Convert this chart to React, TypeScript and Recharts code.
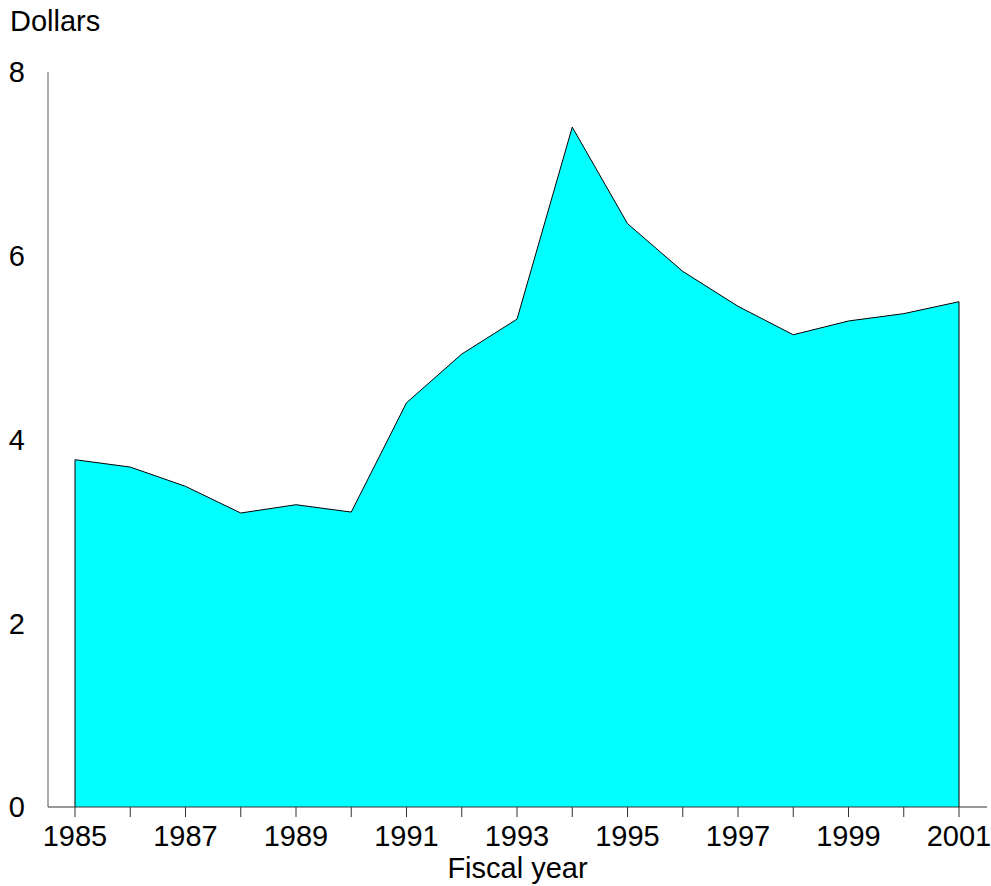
import { AreaChart, Area, XAxis, YAxis, ReferenceLine } from 'recharts';

const years = [1985, 1986, 1987, 1988, 1989, 1990, 1991, 1992, 1993, 1994, 1995, 1996, 1997, 1998, 1999, 2000, 2001];
const dollars = [3.78, 3.7, 3.49, 3.2, 3.29, 3.21, 4.4, 4.93, 5.31, 7.4, 6.35, 5.83, 5.45, 5.14, 5.29, 5.37, 5.5];
const yTicks = [0, 2, 4, 6, 8];

const data = years.map((year, i) => ({ year, value: dollars[i] }));

const FONT = '"Liberation Sans", Arial, sans-serif';
const FS = 29;

const App = () => {
  const first = data[0];
  const last = data[data.length - 1];

  return (
    <div style={{ position: 'absolute', left: 0, top: 0, width: 991, height: 886, fontFamily: FONT }}>
      <div style={{ position: 'absolute', left: 10, top: 5, fontSize: FS, color: '#000' }}>Dollars</div>
      <AreaChart width={991} height={886} data={data} margin={{ top: 72, right: 4, bottom: 0, left: 0 }}>
        <XAxis
          dataKey="year"
          type="number"
          domain={[1985, 2001]}
          ticks={years}
          interval={0}
          padding={{ left: 27, right: 28 }}
          tickFormatter={(v: number) => (v % 2 === 1 ? String(v) : '')}
          tickSize={10}
          tickMargin={8}
          height={79}
          stroke="#333"
          tick={{ fill: '#000', fontSize: FS, fontFamily: FONT }}
          label={{ value: 'Fiscal year', position: 'insideBottom', offset: 8, fill: '#000', fontSize: FS, fontFamily: FONT }}
        />
        <YAxis
          domain={[0, 8]}
          ticks={yTicks}
          width={48}
          tickLine={false}
          tickSize={0}
          tickMargin={23}
          stroke="#555"
          tick={{ fill: '#000', fontSize: FS, fontFamily: FONT }}
        />
        <Area
          type="linear"
          dataKey="value"
          fill="#00ffff"
          fillOpacity={1}
          stroke="#000"
          strokeWidth={1}
          isAnimationActive={false}
        />
        <ReferenceLine segment={[{ x: first.year, y: 0 }, { x: first.year, y: first.value }]} stroke="#000" strokeWidth={1} />
        <ReferenceLine segment={[{ x: last.year, y: 0 }, { x: last.year, y: last.value }]} stroke="#000" strokeWidth={1} />
      </AreaChart>
    </div>
  );
};

export default App;
